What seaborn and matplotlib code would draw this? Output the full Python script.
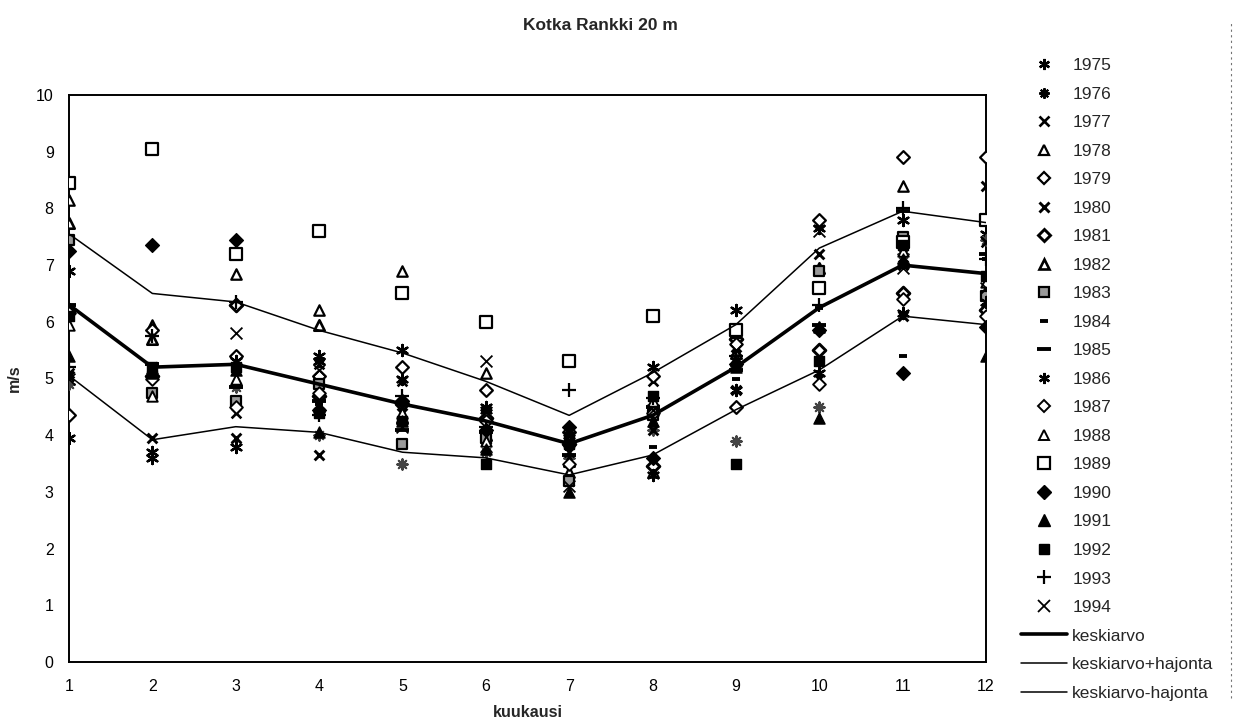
import matplotlib
matplotlib.use("Agg")
import matplotlib.pyplot as plt
from matplotlib.lines import Line2D
import seaborn as sns

# kuukaudet (x-akseli)
kuukaudet = list(range(1, 13))

# kuukausikeskiarvot vuosittain, m/s (luettu kuvasta)
v1975 = [3.95, 3.6, 3.8, 5.4, 5.0, 4.45, 3.95, 5.2, 6.2, 7.65, 7.8, 7.55]
v1976 = [4.9, 5.1, 4.85, 4.0, 3.5, 3.7, 3.6, 4.1, 3.9, 4.5, 7.2, 7.45]
v1977 = [5.1, 5.2, 4.4, 5.25, 4.95, 4.35, 3.7, 4.95, 4.8, 5.0, 7.0, 7.4]
v1978 = [8.15, 5.95, 6.85, 6.2, 6.9, 5.1, 3.35, 3.35, 5.3, 5.9, 8.4, 6.3]
v1979 = [4.35, 5.85, 5.4, 5.05, 5.2, 4.8, 4.05, 5.05, 4.5, 7.8, 8.9, 8.9]
v1980 = [5.05, 3.95, 3.95, 3.65, 4.4, 3.8, 3.2, 4.1, 5.55, 7.2, 6.1, 8.4]
v1981 = [6.2, 5.05, 6.3, 4.7, 4.55, 4.3, 3.85, 3.45, 5.7, 5.5, 6.5, 6.2]
v1982 = [7.75, 5.7, 4.95, 5.95, 4.3, 4.0, 3.55, 4.55, 5.45, 6.95, 7.05, 6.55]
v1983 = [7.45, 4.75, 4.6, 4.9, 3.85, 3.95, 3.2, 4.35, 5.8, 6.9, 7.5, 6.45]
v1984 = [6.05, 5.15, 5.1, 4.55, 4.2, 3.85, 3.75, 3.8, 5.0, 6.25, 5.4, 7.1]
v1985 = [6.3, 5.25, 4.85, 4.6, 4.1, 4.05, 3.65, 4.5, 5.15, 5.95, 7.95, 7.2]
v1986 = [6.9, 3.7, 5.3, 5.3, 5.5, 4.5, 4.0, 3.3, 4.8, 5.1, 6.15, 6.35]
v1987 = [6.15, 5.0, 4.5, 4.75, 4.6, 4.25, 3.5, 4.4, 5.6, 4.9, 6.4, 6.1]
v1988 = [5.95, 4.7, 5.0, 4.5, 4.4, 3.9, 3.9, 4.6, 5.35, 6.6, 7.25, 6.7]
v1989 = [8.45, 9.05, 7.2, 7.6, 6.5, 6.0, 5.3, 6.1, 5.85, 6.6, 7.4, 7.8]
v1990 = [7.25, 7.35, 7.45, 4.45, 4.6, 4.1, 4.15, 3.6, 5.25, 5.85, 5.1, 5.9]
v1991 = [5.4, 5.1, 5.15, 4.05, 4.25, 3.75, 3.0, 4.25, 5.2, 4.3, 7.1, 5.4]
v1992 = [6.1, 5.2, 5.2, 4.4, 4.25, 3.5, 3.85, 4.7, 3.5, 5.3, 7.35, 6.8]
v1993 = [5.2, 5.75, 6.35, 4.35, 4.7, 4.15, 4.8, 4.65, 5.4, 6.3, 8.0, 7.1]
v1994 = [5.0, 5.15, 5.8, 5.15, 4.15, 5.3, 3.1, 4.45, 5.5, 7.6, 6.95, 6.6]

# keskiarvo ja hajonta (luettu kuvasta)
keskiarvo = [6.3, 5.2, 5.25, 4.9, 4.55, 4.25, 3.85, 4.35, 5.2, 6.25, 7.0, 6.85]
keskiarvo_plus = [7.55, 6.5, 6.35, 5.85, 5.45, 4.95, 4.35, 5.1, 5.95, 7.3, 7.95, 7.75]
keskiarvo_miinus = [5.05, 3.92, 4.15, 4.05, 3.7, 3.6, 3.3, 3.65, 4.45, 5.15, 6.1, 5.95]

vuodet = list(range(1975, 1995))
arvot = [v1975, v1976, v1977, v1978, v1979, v1980, v1981, v1982, v1983, v1984,
         v1985, v1986, v1987, v1988, v1989, v1990, v1991, v1992, v1993, v1994]

# merkki, koko, taytto, viivan paksuus
tyylit = {
    1975: ((6, 2, 0), 8.0, 'black', 1.7),
    1976: ((8, 2, 0), 7.5, '#444444', 1.5),
    1977: ('x', 7.0, 'black', 1.9),
    1978: ('^', 7.5, 'white', 1.6),
    1979: ('D', 6.5, 'white', 1.6),
    1980: ('x', 7.0, 'black', 2.1),
    1981: ('D', 6.5, 'white', 2.1),
    1982: ('^', 7.5, 'white', 1.9),
    1983: ('s', 7.5, '#9a9a9a', 1.6),
    1984: ('_', 5.5, 'black', 2.8),
    1985: ('_', 9.5, 'black', 2.8),
    1986: ((6, 2, 0), 8.0, 'black', 1.7),
    1987: ('D', 6.5, 'white', 1.4),
    1988: ('^', 7.5, 'white', 1.4),
    1989: ('s', 8.5, 'white', 1.6),
    1990: ('D', 7.0, 'black', 1.0),
    1991: ('^', 8.0, 'black', 1.0),
    1992: ('s', 7.5, 'black', 1.0),
    1993: ('+', 9.5, 'black', 1.6),
    1994: ('x', 8.5, 'black', 1.3),
}

sns.set_theme(style="white")
plt.rcParams['font.family'] = ['Liberation Sans', 'DejaVu Sans']

W, H = 1237, 727
fig = plt.figure(figsize=(W / 100, H / 100), dpi=100)
ax = fig.add_axes([69 / W, 1 - 662 / H, (986 - 69) / W, (662 - 95) / H])

kahvat = []
for vuosi, y in zip(vuodet, arvot):
    m, ms, fc, lw = tyylit[vuosi]
    sns.scatterplot(x=kuukaudet, y=y, marker=m, s=ms ** 2, color='black',
                    facecolor=fc, edgecolor='black', linewidth=lw,
                    ax=ax, zorder=3, legend=False)
    kahvat.append(Line2D([], [], marker=m, linestyle='none', markersize=ms,
                         markerfacecolor=fc, markeredgecolor='black',
                         markeredgewidth=lw))

sns.lineplot(x=kuukaudet, y=keskiarvo, color='black', linewidth=2.6, ax=ax, zorder=4)
sns.lineplot(x=kuukaudet, y=keskiarvo_plus, color='black', linewidth=1.1, ax=ax, zorder=4)
sns.lineplot(x=kuukaudet, y=keskiarvo_miinus, color='black', linewidth=1.1, ax=ax, zorder=4)

kahvat += [Line2D([], [], color='black', linewidth=2.6),
           Line2D([], [], color='black', linewidth=1.1),
           Line2D([], [], color='black', linewidth=1.1)]
nimet = [str(v) for v in vuodet] + ['keskiarvo', 'keskiarvo+hajonta', 'keskiarvo-hajonta']

ax.set_xlim(1, 12)
ax.set_ylim(0, 10)
ax.set_xticks(kuukaudet)
ax.set_yticks(range(0, 11))
ax.tick_params(axis='both', labelsize=11.5, length=3, direction='out', colors='black')
ax.tick_params(axis='x', pad=9)
ax.tick_params(axis='y', pad=8)
for s in ax.spines.values():
    s.set_color('black')
    s.set_linewidth(1.4)

ax.set_xlabel('kuukausi', fontsize=11.5, fontweight='bold', labelpad=8)
ax.set_ylabel('m/s', fontsize=11.5, fontweight='bold', labelpad=10)
fig.text(0.485, 1 - 25 / H, 'Kotka Rankki 20 m', ha='center', va='center',
         fontsize=12.5, fontweight='bold')

fig.legend(kahvat, nimet, loc='upper left', bbox_to_anchor=(1021 / W, 1 - 58 / H),
           frameon=False, fontsize=12.5, handlelength=2.65, handletextpad=0.3,
           labelspacing=0.77, borderpad=0, borderaxespad=0)

# skannatun sivun reunaviiva
fig.add_artist(Line2D([1231 / W, 1231 / W], [0.04, 0.97], transform=fig.transFigure,
                      color='0.45', linewidth=0.8, linestyle=(0, (2, 3))))

fig.savefig('out.png', dpi=100)
